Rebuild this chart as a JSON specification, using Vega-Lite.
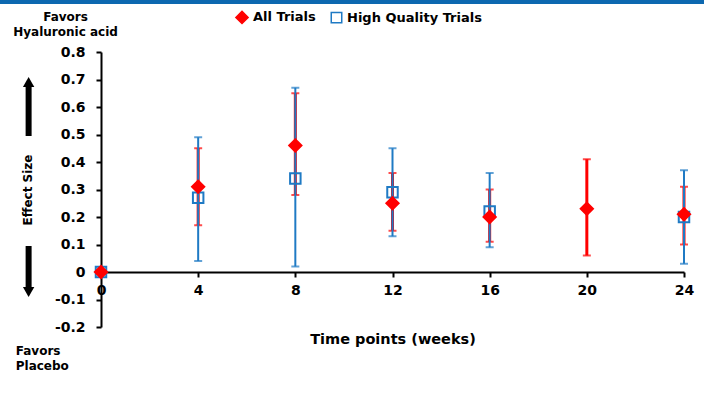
{
  "$schema": "https://vega.github.io/schema/vega-lite/v6.json",
  "width": 583,
  "height": 275,
  "autosize": {"type": "none"},
  "padding": {"left": 101, "top": 52, "right": 20, "bottom": 74},
  "background": "white",
  "config": {
    "view": {"stroke": null},
    "font": "DejaVu Sans",
    "axis": {"grid": false, "domainColor": "black", "domainWidth": 2, "tickColor": "black", "tickWidth": 2, "tickSize": 5, "labelColor": "black", "labelFont": "DejaVu Sans", "labelFontWeight": "bold", "labelFontSize": 14, "titleColor": "black", "titleFont": "DejaVu Sans", "titleFontWeight": "bold", "labelOverlap": false, "labelFlush": false}
  },
  "datasets": {
    "effects": [
      {"week": 0, "series": "All Trials", "es": 0},
      {"week": 4, "series": "All Trials", "es": 0.31, "lo": 0.17, "hi": 0.45},
      {"week": 8, "series": "All Trials", "es": 0.46, "lo": 0.28, "hi": 0.65},
      {"week": 12, "series": "All Trials", "es": 0.25, "lo": 0.15, "hi": 0.36},
      {"week": 16, "series": "All Trials", "es": 0.2, "lo": 0.11, "hi": 0.3},
      {"week": 20, "series": "All Trials", "es": 0.23, "lo": 0.06, "hi": 0.41},
      {"week": 24, "series": "All Trials", "es": 0.21, "lo": 0.1, "hi": 0.31},
      {"week": 0, "series": "High Quality Trials", "es": 0},
      {"week": 4, "series": "High Quality Trials", "es": 0.27, "lo": 0.04, "hi": 0.49},
      {"week": 8, "series": "High Quality Trials", "es": 0.34, "lo": 0.02, "hi": 0.67},
      {"week": 12, "series": "High Quality Trials", "es": 0.29, "lo": 0.13, "hi": 0.45},
      {"week": 16, "series": "High Quality Trials", "es": 0.22, "lo": 0.09, "hi": 0.36},
      {"week": 24, "series": "High Quality Trials", "es": 0.2, "lo": 0.03, "hi": 0.37}
    ]
  },
  "data": {"name": "effects"},
  "layer": [
    {
      "transform": [{"filter": "datum.series === 'All Trials' && datum.lo != null"}],
      "mark": {"type": "rule", "color": "#ff0000", "strokeWidth": 3},
      "encoding": {
        "x": {"field": "week", "type": "quantitative", "scale": {"domain": [0, 24], "nice": false, "zero": false},
          "axis": {"values": [0, 4, 8, 12, 16, 20, 24], "title": "Time points (weeks)", "offset": -55, "labelPadding": 6, "titleFontSize": 14.5, "titleY": 67, "titleBaseline": "middle"}},
        "y": {"field": "lo", "type": "quantitative", "scale": {"domain": [-0.2, 0.8], "nice": false, "zero": false},
          "axis": {"values": [-0.2, -0.1, 0, 0.1, 0.2, 0.3, 0.4, 0.5, 0.6, 0.7, 0.8], "labelOverlap": false, "labelExpr": "datum.value + ''", "title": "Effect Size", "titleFontSize": 12, "labelPadding": 11, "titlePadding": 20}},
        "y2": {"field": "hi"}
      }
    },
    {
      "transform": [{"filter": "datum.series === 'All Trials' && datum.lo != null"}, {"fold": ["lo", "hi"], "as": ["end", "val"]}],
      "mark": {"type": "tick", "orient": "horizontal", "color": "#ff0000", "size": 8, "thickness": 2},
      "encoding": {
        "x": {"field": "week", "type": "quantitative", "axis": {"values": [0, 4, 8, 12, 16, 20, 24]}},
        "y": {"field": "val", "type": "quantitative", "axis": {"values": [-0.2, -0.1, 0, 0.1, 0.2, 0.3, 0.4, 0.5, 0.6, 0.7, 0.8], "labelOverlap": false}}
      }
    },
    {
      "transform": [{"filter": "datum.series === 'High Quality Trials' && datum.lo != null"}],
      "mark": {"type": "rule", "color": "#1f7ac4", "strokeWidth": 2},
      "encoding": {
        "x": {"field": "week", "type": "quantitative", "axis": {"values": [0, 4, 8, 12, 16, 20, 24]}},
        "y": {"field": "lo", "type": "quantitative", "axis": {"values": [-0.2, -0.1, 0, 0.1, 0.2, 0.3, 0.4, 0.5, 0.6, 0.7, 0.8], "labelOverlap": false}},
        "y2": {"field": "hi"}
      }
    },
    {
      "transform": [{"filter": "datum.series === 'High Quality Trials' && datum.lo != null"}, {"fold": ["lo", "hi"], "as": ["end", "val"]}],
      "mark": {"type": "tick", "orient": "horizontal", "color": "#1f7ac4", "size": 8, "thickness": 2},
      "encoding": {
        "x": {"field": "week", "type": "quantitative", "axis": {"values": [0, 4, 8, 12, 16, 20, 24]}},
        "y": {"field": "val", "type": "quantitative", "axis": {"values": [-0.2, -0.1, 0, 0.1, 0.2, 0.3, 0.4, 0.5, 0.6, 0.7, 0.8], "labelOverlap": false}}
      }
    },
    {
      "mark": {"type": "point", "strokeWidth": 2, "opacity": 1},
      "encoding": {
        "x": {"field": "week", "type": "quantitative", "axis": {"values": [0, 4, 8, 12, 16, 20, 24]}},
        "y": {"field": "es", "type": "quantitative", "axis": {"values": [-0.2, -0.1, 0, 0.1, 0.2, 0.3, 0.4, 0.5, 0.6, 0.7, 0.8], "labelOverlap": false}},
        "shape": {"field": "series", "type": "nominal", "scale": {"domain": ["All Trials", "High Quality Trials"], "range": ["diamond", "square"]},
          "legend": {"title": null, "orient": "none", "legendX": 134, "legendY": -42, "direction": "horizontal", "labelFont": "DejaVu Sans", "labelFontWeight": "bold", "labelFontSize": 13, "labelColor": "black", "columnPadding": 12, "labelOffset": 4, "padding": 0}},
        "stroke": {"field": "series", "type": "nominal", "scale": {"domain": ["All Trials", "High Quality Trials"], "range": ["#ff0000", "#1f7ac4"]}, "legend": {"title": null, "orient": "none", "legendX": 134, "legendY": -42, "direction": "horizontal"}},
        "fill": {"field": "series", "type": "nominal", "scale": {"domain": ["All Trials", "High Quality Trials"], "range": ["#ff0000", "transparent"]}, "legend": {"title": null, "orient": "none", "legendX": 134, "legendY": -42, "direction": "horizontal"}},
        "size": {"field": "series", "type": "nominal", "scale": {"domain": ["All Trials", "High Quality Trials"], "range": [150, 110]}, "legend": {"title": null, "orient": "none", "legendX": 134, "legendY": -42, "direction": "horizontal"}},
        "order": {"field": "series", "sort": "descending"}
      }
    },
    {
      "data": {"values": [{}]},
      "mark": {"type": "rect", "color": "#0d68b0"},
      "encoding": {
        "x": {"datum": -4.16, "type": "quantitative", "axis": {"values": [0, 4, 8, 12, 16, 20, 24]}},
        "x2": {"datum": 24.83},
        "y": {"datum": 0.9891, "type": "quantitative", "axis": {"values": [-0.2, -0.1, 0, 0.1, 0.2, 0.3, 0.4, 0.5, 0.6, 0.7, 0.8], "labelOverlap": false}},
        "y2": {"datum": 0.9745}
      }
    },
    {
      "data": {"values": [{}]},
      "mark": {"type": "text", "text": ["Favors", "Hyaluronic acid"], "font": "DejaVu Sans", "fontWeight": "bold", "fontSize": 12, "lineHeight": 15, "align": "center", "baseline": "middle", "color": "black"},
      "encoding": {
        "x": {"datum": -1.46, "type": "quantitative", "axis": {"values": [0, 4, 8, 12, 16, 20, 24]}},
        "y": {"datum": 0.9255, "type": "quantitative", "axis": {"values": [-0.2, -0.1, 0, 0.1, 0.2, 0.3, 0.4, 0.5, 0.6, 0.7, 0.8], "labelOverlap": false}}
      }
    },
    {
      "data": {"values": [{}]},
      "mark": {"type": "text", "text": ["Favors", "Placebo"], "font": "DejaVu Sans", "fontWeight": "bold", "fontSize": 12, "lineHeight": 15, "align": "left", "baseline": "middle", "color": "black"},
      "encoding": {
        "x": {"datum": -3.51, "type": "quantitative", "axis": {"values": [0, 4, 8, 12, 16, 20, 24]}},
        "y": {"datum": -0.289, "type": "quantitative", "axis": {"values": [-0.2, -0.1, 0, 0.1, 0.2, 0.3, 0.4, 0.5, 0.6, 0.7, 0.8], "labelOverlap": false}}
      }
    },
    {
      "data": {"values": [{}]},
      "mark": {"type": "rule", "color": "black", "strokeWidth": 6},
      "encoding": {
        "x": {"datum": -2.98, "type": "quantitative", "axis": {"values": [0, 4, 8, 12, 16, 20, 24]}},
        "y": {"datum": 0.4945, "type": "quantitative", "axis": {"values": [-0.2, -0.1, 0, 0.1, 0.2, 0.3, 0.4, 0.5, 0.6, 0.7, 0.8], "labelOverlap": false}},
        "y2": {"datum": 0.685}
      }
    },
    {
      "data": {"values": [{}]},
      "mark": {"type": "rule", "color": "black", "strokeWidth": 6},
      "encoding": {
        "x": {"datum": -2.98, "type": "quantitative", "axis": {"values": [0, 4, 8, 12, 16, 20, 24]}},
        "y": {"datum": 0.0945, "type": "quantitative", "axis": {"values": [-0.2, -0.1, 0, 0.1, 0.2, 0.3, 0.4, 0.5, 0.6, 0.7, 0.8], "labelOverlap": false}},
        "y2": {"datum": -0.068}
      }
    },
    {
      "data": {"values": [{}]},
      "mark": {"type": "point", "shape": "triangle-up", "filled": true, "color": "black", "size": 130, "opacity": 1},
      "encoding": {
        "x": {"datum": -2.98, "type": "quantitative", "axis": {"values": [0, 4, 8, 12, 16, 20, 24]}},
        "y": {"datum": 0.691, "type": "quantitative", "axis": {"values": [-0.2, -0.1, 0, 0.1, 0.2, 0.3, 0.4, 0.5, 0.6, 0.7, 0.8], "labelOverlap": false}}
      }
    },
    {
      "data": {"values": [{}]},
      "mark": {"type": "point", "shape": "triangle-down", "filled": true, "color": "black", "size": 130, "opacity": 1},
      "encoding": {
        "x": {"datum": -2.98, "type": "quantitative", "axis": {"values": [0, 4, 8, 12, 16, 20, 24]}},
        "y": {"datum": -0.0727, "type": "quantitative", "axis": {"values": [-0.2, -0.1, 0, 0.1, 0.2, 0.3, 0.4, 0.5, 0.6, 0.7, 0.8], "labelOverlap": false}}
      }
    }
  ]
}
